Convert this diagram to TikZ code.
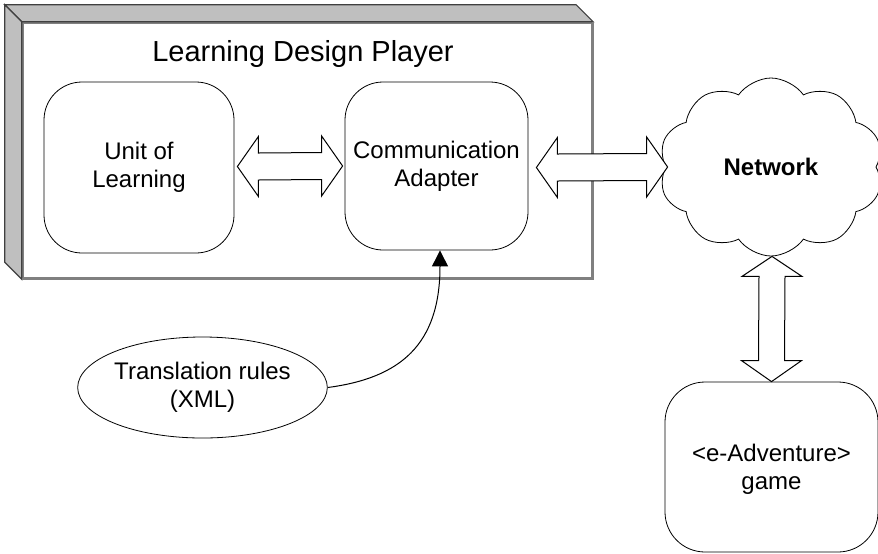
\documentclass[tikz,border=0pt]{standalone}
\usepackage{fontspec}
\setmainfont{Liberation Sans}
\usetikzlibrary{shapes.geometric,shapes.symbols,arrows.meta,calc,positioning}

% horizontal fat double arrow between two points
\newcommand{\hfat}[2]{%
  \draw[fat] (#1) -- ++(21,-30) -- ++(0,16.5) -- ($(#2)+(-21,-13.5)$) -- ++(0,-16.5)
    -- (#2) -- ++(-21,30) -- ++(0,-16.5) -- ($(#1)+(21,13.5)$) -- ++(0,16.5) -- cycle;}
% vertical fat double arrow between two points
\newcommand{\vfat}[2]{%
  \draw[fat] (#1) -- ++(30,20) -- ++(-17,0) -- ($(#2)+(13,-21)$) -- ++(17,0)
    -- (#2) -- ++(-30,-21) -- ++(17,0) -- ($(#1)+(-13,20)$) -- ++(-17,0) -- cycle;}

\begin{document}
\begin{tikzpicture}[x=0.5pt,y=-0.5pt,font=\fontsize{12}{14}\selectfont]
\tikzstyle{unit} = [draw=black, rounded corners=19pt, align=center, text centered]
\tikzstyle{fat} = [draw=black, line width=0.5pt, fill=white]
\tikzstyle{face} = [draw=black!75, fill=black!25, line width=0.6pt]

\useasboundingbox (0,0) rectangle (878,553);

% the player
\node (ldp) [draw=black!50, line width=1.2pt, minimum width=284.5pt, minimum height=127.5pt,
  inner sep=0] at (307.5,150.5) {};
\draw[face] (ldp.north west) -- ++(-17,-17) -- ($(ldp.north east)+(-17,-17)$) -- (ldp.north east) -- cycle;
\draw[face] (ldp.north west) -- ++(-17,-17) -- ($(ldp.south west)+(-17,-17)$) -- (ldp.south west) -- cycle;
\draw[draw=black!50, line width=1.2pt] (ldp.north east) -- (ldp.south east) -- (ldp.south west);
\node (title) at (303,54) {\fontsize{14.5}{17}\selectfont Learning Design Player};

\node (uol) [unit, minimum width=95pt, minimum height=85.5pt] at (139,167.5) {Unit of\\Learning};
\node (ca) [unit, minimum width=91.5pt, minimum height=84pt] at (436.5,166) {Communication\\Adapter};

\node (net) [cloud, draw=black, cloud puffs=10, cloud puff arc=110, cloud ignores aspect,
  minimum width=112pt, minimum height=89pt] at (771,167) {\textbf{Network}};
\node (game) [unit, rounded corners=20pt, minimum width=106.5pt, minimum height=85pt,
  text depth=-4pt] at (771.5,467) {<e-Adventure>\\game};
\node (rules) [ellipse, draw=black, align=center, inner sep=0, minimum width=120.5pt,
  minimum height=50.5pt] at (202.5,387.5) {Translation rules\\(XML)};

\hfat{$(uol.east)+(3,-1)$}{$(ca.west)+(-2,0)$}
\hfat{$(ca.east)+(8,1.5)$}{$(net.west)+(2,0)$}
\vfat{$(net.south)+(1,0)$}{$(game.north)$}

\draw[-{Triangle[length=8pt,width=8pt]}, line width=0.5pt] (rules.east)
  .. controls (400,378) and (440,345) .. ($(ca.south)+(3.5,0)$);
\end{tikzpicture}
\end{document}
